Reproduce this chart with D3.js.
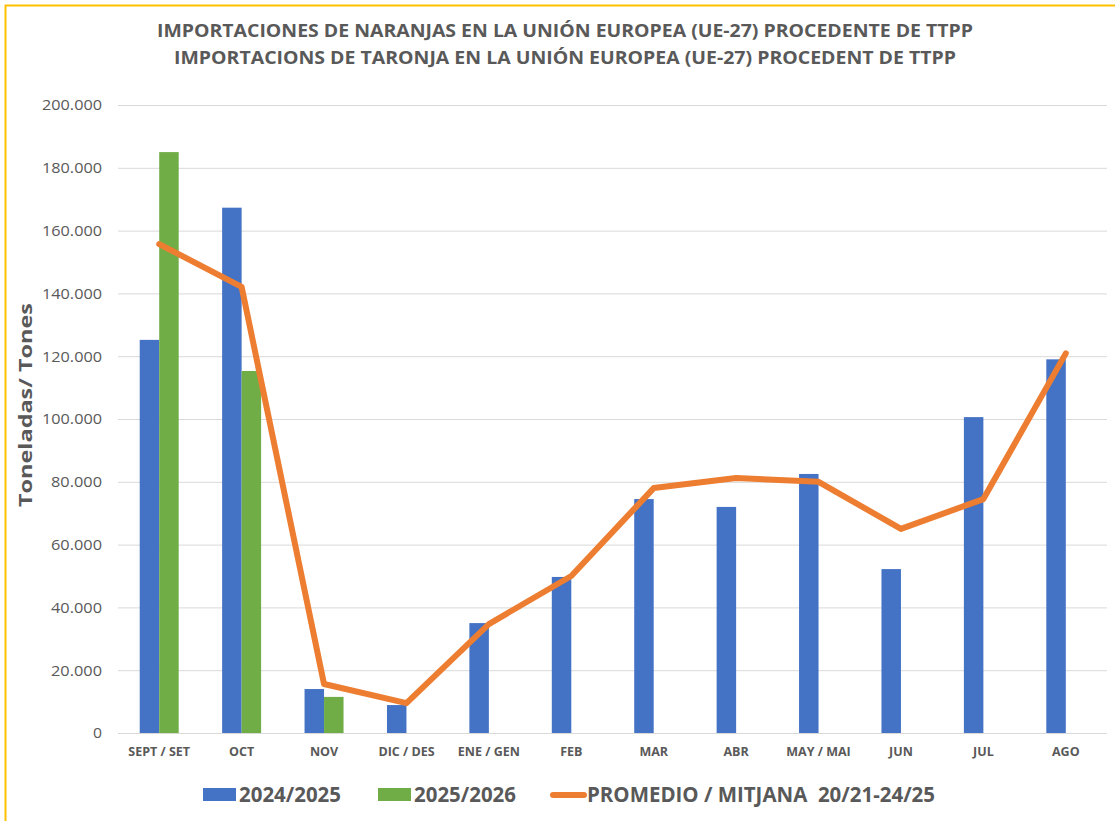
<!DOCTYPE html>
<html><head><meta charset="utf-8">
<script src="https://cdn.jsdelivr.net/npm/d3@7"></script>
<style>
html,body{margin:0;padding:0;background:#fff;}
svg{display:block;}
</style></head>
<body>
<svg id="chart" width="1115" height="821"></svg>
<script>
const categories = ["SEPT / SET","OCT","NOV","DIC / DES","ENE / GEN","FEB","MAR","ABR","MAY / MAI","JUN","JUL","AGO"];
const series2425 = [125200,167300,14000,8900,35000,49700,74500,72000,82500,52200,100600,119000];
const series2526 = [185000,115300,11500,null,null,null,null,null,null,null,null,null];
const promedio = [155700,142100,15600,9500,34700,50000,78000,81200,80000,65000,74500,120900];
const yTicks = [0,20000,40000,60000,80000,100000,120000,140000,160000,180000,200000];
const titleLines = ["IMPORTACIONES DE NARANJAS EN LA UNIÓN EUROPEA (UE-27) PROCEDENTE DE TTPP","IMPORTACIONS DE TARONJA EN LA UNIÓN EUROPEA (UE-27) PROCEDENT DE TTPP"];
const legendLabels = ["2024/2025","2025/2026","PROMEDIO / MITJANA  20/21-24/25"];
const yTitle = "Toneladas/ Tones";

const C = {blue:"#4472C4", green:"#70AD47", orange:"#ED7D31", text:"#595959", grid:"#D9D9D9", border:"#FFC000"};
const svg = d3.select("#chart");
const font = "'Open Sans', sans-serif";

// border
svg.append("rect").attr("x",5.5).attr("y",5.5).attr("width",1140).attr("height",840)
  .attr("fill","#fff").attr("stroke",C.border).attr("stroke-width",2);

const m = {left:118, right:1107, top:105, bottom:733};
const x = d3.scaleBand().domain(categories).range([m.left,m.right]).paddingInner(0.527).paddingOuter(0.2635);
const xCat = d3.scaleBand().domain(categories).range([m.left,m.right]);
const y = d3.scaleLinear().domain([0,200000]).range([m.bottom,m.top]);
const fmt = v => v===0 ? "0" : d3.format(",")(v).replace(/,/g,".");

// grid
const g = svg.append("g");
g.selectAll("line.grid").data(yTicks).join("line")
  .attr("x1",m.left).attr("x2",m.right)
  .attr("y1",d=>y(d)+0.5).attr("y2",d=>y(d)+0.5)
  .attr("stroke",C.grid).attr("stroke-width",1);

// y axis labels
const yAxis = d3.axisLeft(y).tickValues(yTicks).tickFormat(fmt).tickSize(0).tickPadding(0);
const ya = svg.append("g").attr("transform",`translate(102,0)`).call(yAxis);
ya.select(".domain").remove();
ya.selectAll("text").attr("font-family",font).attr("font-size",15).attr("fill",C.text)
  .attr("textLength",d=>fmt(d).length===1?9:(fmt(d).length===6?51:60)).attr("lengthAdjust","spacingAndGlyphs");

// y title
svg.append("text").attr("transform","translate(32,405) rotate(-90)")
  .attr("text-anchor","middle").attr("font-family",font).attr("font-weight","bold")
  .attr("font-size",18).attr("fill",C.text)
  .attr("textLength",204).attr("lengthAdjust","spacingAndGlyphs").text(yTitle);

// bars
const bw = x.bandwidth()/2;
svg.append("g").selectAll("rect").data(series2425).join("rect")
  .attr("x",(d,i)=>x(categories[i])).attr("width",bw)
  .attr("y",d=>y(d)).attr("height",d=>y(0)-y(d)).attr("fill",C.blue);
svg.append("g").selectAll("rect").data(series2526.map((v,i)=>({v,i})).filter(d=>d.v!=null)).join("rect")
  .attr("x",d=>x(categories[d.i])+bw).attr("width",bw)
  .attr("y",d=>y(d.v)).attr("height",d=>y(0)-y(d.v)).attr("fill",C.green);

// x axis
const xa = svg.append("g").attr("transform",`translate(0,${m.bottom})`)
  .call(d3.axisBottom(xCat).tickSize(0).tickPadding(14));
xa.select(".domain").remove();
xa.selectAll("text").attr("font-family",font).attr("font-weight","bold").attr("font-size",12.5).attr("fill",C.text);

// line
const line = d3.line().x((d,i)=>xCat(categories[i])+xCat.bandwidth()/2).y(d=>y(d));
svg.append("path").datum(promedio).attr("d",line).attr("fill","none")
  .attr("stroke",C.orange).attr("stroke-width",6).attr("stroke-linejoin","round").attr("stroke-linecap","round");

// title
svg.append("g").selectAll("text").data(titleLines).join("text")
  .attr("x",565).attr("y",(d,i)=>37+i*27).attr("text-anchor","middle")
  .attr("font-family",font).attr("font-weight","bold").attr("font-size",17).attr("fill",C.text)
  .attr("textLength",(d,i)=>i===0?816:782).attr("lengthAdjust","spacingAndGlyphs").text(d=>d);

// legend
const lg = svg.append("g");
const legItems = [{x:203,type:"rect",c:C.blue,tl:102},{x:378,type:"rect",c:C.green,tl:102},{x:551,type:"line",c:C.orange,tl:348}];
legItems.forEach((it,i)=>{
  if(it.type==="rect"){
    lg.append("rect").attr("x",it.x).attr("y",788).attr("width",33).attr("height",13).attr("fill",it.c);
  } else {
    lg.append("line").attr("x1",it.x+2).attr("x2",it.x+33).attr("y1",795).attr("y2",795)
      .attr("stroke",it.c).attr("stroke-width",6).attr("stroke-linecap","round");
  }
  lg.append("text").attr("x",it.x+36).attr("y",802).attr("font-family",font).attr("font-weight","bold")
    .attr("font-size",21).attr("fill",C.text).attr("textLength",it.tl).attr("lengthAdjust","spacingAndGlyphs")
    .attr("xml:space","preserve").style("white-space","pre")
    .text(legendLabels[i]);
});
</script>
</body></html>
